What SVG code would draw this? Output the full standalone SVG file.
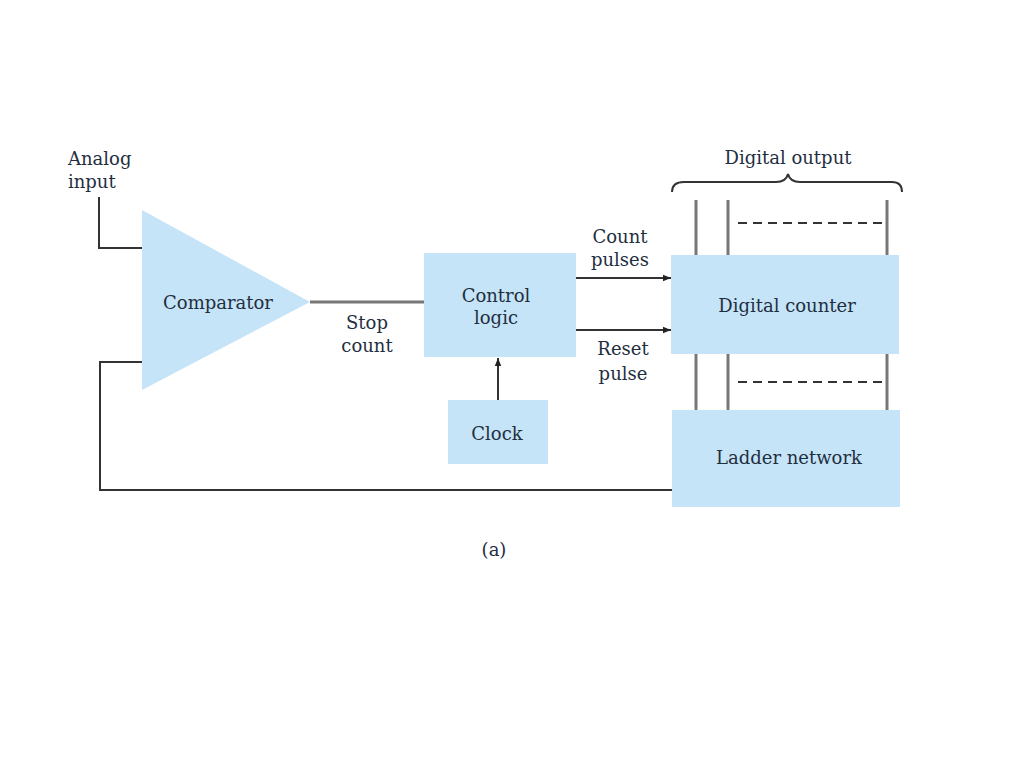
<svg xmlns="http://www.w3.org/2000/svg" width="1024" height="768" viewBox="0 0 1024 768">
<style>
.box{fill:#c6e4f7;stroke:none}
.t{font-family:'DejaVu Serif','Liberation Serif',serif;font-size:18px;fill:#1f2f3f;text-anchor:middle}
.s{text-anchor:start}
.w{stroke:#333;stroke-width:2;fill:none}
.g{stroke:#777;stroke-width:3;fill:none}
.d{stroke:#333;stroke-width:2;fill:none;stroke-dasharray:9,6}
</style>
<defs>
<marker id="ah" viewBox="0 0 10 10" refX="10" refY="5" markerWidth="10" markerHeight="8" markerUnits="userSpaceOnUse" orient="auto">
<path d="M0,1 L10,5 L0,9 Z" fill="#222"/>
</marker>
</defs>
<rect width="1024" height="768" fill="#fff"/>
<g id="connectors">
<polyline class="w" points="99,197 99,248 142,248"/>
<polyline class="w" points="142,362 100,362 100,490 672,490"/>
<line class="g" x1="310" y1="302" x2="424" y2="302"/>
<line class="w" x1="498" y1="400" x2="498" y2="358" marker-end="url(#ah)"/>
<line class="w" x1="576" y1="278" x2="671" y2="278" marker-end="url(#ah)"/>
<line class="w" x1="576" y1="330" x2="671" y2="330" marker-end="url(#ah)"/>
<line class="g" x1="696" y1="200" x2="696" y2="255"/>
<line class="g" x1="728" y1="200" x2="728" y2="255"/>
<line class="g" x1="887" y1="200" x2="887" y2="255"/>
<line class="d" x1="738" y1="223" x2="882" y2="223"/>
<line class="g" x1="696" y1="354" x2="696" y2="410"/>
<line class="g" x1="728" y1="354" x2="728" y2="410"/>
<line class="g" x1="887" y1="354" x2="887" y2="410"/>
<line class="d" x1="738" y1="382" x2="882" y2="382"/>
<path class="w" d="M672,192 Q672,182 684,182 L776,182 Q786,182 788,174 Q790,182 800,182 L892,182 Q902,182 902,192"/>
</g>
<g id="comparator">
<polygon class="box" points="142,210 310,302 142,390"/>
<text class="t" x="218" y="309">Comparator</text>
</g>
<g id="control-logic">
<rect class="box" x="424" y="253" width="152" height="104"/>
<text class="t" x="496" y="302">Control</text>
<text class="t" x="496" y="324">logic</text>
</g>
<g id="clock">
<rect class="box" x="448" y="400" width="100" height="64"/>
<text class="t" x="497" y="440">Clock</text>
</g>
<g id="digital-counter">
<rect class="box" x="671" y="255" width="228" height="99"/>
<text class="t" x="787" y="312">Digital counter</text>
</g>
<g id="ladder-network">
<rect class="box" x="672" y="410" width="228" height="97"/>
<text class="t" x="789" y="464">Ladder network</text>
</g>
<g id="labels">
<text class="t s" x="68" y="165">Analog</text>
<text class="t s" x="68" y="188">input</text>
<text class="t" x="367" y="329">Stop</text>
<text class="t" x="367" y="352">count</text>
<text class="t" x="620" y="243">Count</text>
<text class="t" x="620" y="266">pulses</text>
<text class="t" x="623" y="355">Reset</text>
<text class="t" x="623" y="380">pulse</text>
<text class="t" x="788" y="164">Digital output</text>
<text class="t" x="494" y="556">(a)</text>
</g>
</svg>
